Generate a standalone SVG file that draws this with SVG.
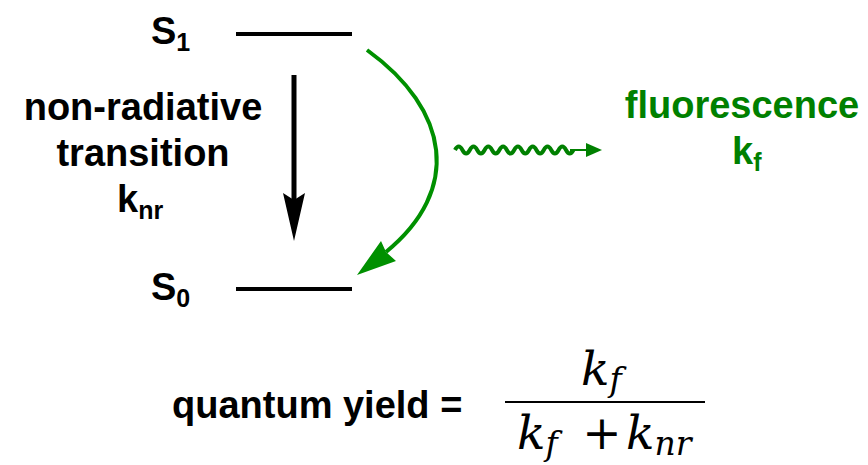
<svg xmlns="http://www.w3.org/2000/svg" width="868" height="465" viewBox="0 0 868 465">
<style>
.lbl{font-family:"Liberation Sans",Arial,sans-serif;font-weight:bold;font-size:38px;fill:#000}
.grn{fill:#008000}
.sub{font-size:25px}
.math{font-family:"DejaVu Serif","Liberation Serif",serif;font-style:italic;font-size:47px;fill:#000}
.msub{font-size:33px}
.lvl{stroke:#000;stroke-width:4;fill:none}
</style>
<rect width="868" height="465" fill="#fff"/>
<g id="S1">
<text class="lbl" x="151" y="44">S<tspan class="sub" dy="7">1</tspan></text>
<line class="lvl" x1="236" y1="34" x2="352" y2="34"/>
</g>
<g id="S0">
<text class="lbl" x="151" y="300">S<tspan class="sub" dy="7">0</tspan></text>
<line class="lvl" x1="236" y1="289" x2="352" y2="289"/>
</g>
<g id="nonrad-label">
<text class="lbl" text-anchor="middle" x="143" y="120">non-radiative</text>
<text class="lbl" text-anchor="middle" x="143" y="166">transition</text>
<text class="lbl" x="117" y="212">k<tspan class="sub" dy="7">nr</tspan></text>
</g>
<g id="fluor-label">
<text class="lbl grn" text-anchor="middle" x="742" y="118">fluorescence</text>
<text class="lbl grn" x="732" y="164">k<tspan class="sub" dy="7">f</tspan></text>
</g>
<g id="connectors">
<line x1="294" y1="75" x2="294" y2="205" stroke="#000" stroke-width="5"/>
<polygon points="283,193 294,200 305,193 294,241" fill="#000"/>
<path d="M367,50 C450,110 462,190 386,252" fill="none" stroke="#009000" stroke-width="4"/>
<polygon points="357,275 381,241 386,252 396,261" fill="#009000"/>
<path d="M455,150 q3.7,-7 7.4,0 t7.4,0 t7.4,0 t7.4,0 t7.4,0 t7.4,0 t7.4,0 t7.4,0 t7.4,0 t7.4,0 t7.4,0 t7.4,0 t7.4,0 t7.4,0 t7.4,0 t7.4,0" fill="none" stroke="#008000" stroke-width="4"/>
<line x1="570" y1="150" x2="590" y2="150" stroke="#008000" stroke-width="2"/>
<polygon points="586,143 602,150 586,157" fill="#008000"/>
</g>
<g id="equation">
<text class="lbl" x="172" y="418">quantum yield =</text>
<line x1="505" y1="402" x2="705" y2="402" stroke="#000" stroke-width="2"/>
<text class="math" x="581" y="385">k<tspan class="msub" dy="6">f</tspan></text>
<text class="math" x="517" y="449">k<tspan class="msub" dy="6">f</tspan></text>
<text class="math" x="602" y="449" text-anchor="middle" font-style="normal" font-size="52">+</text>
<text class="math" x="626" y="449">k<tspan class="msub" dy="6">nr</tspan></text>
</g>
</svg>
